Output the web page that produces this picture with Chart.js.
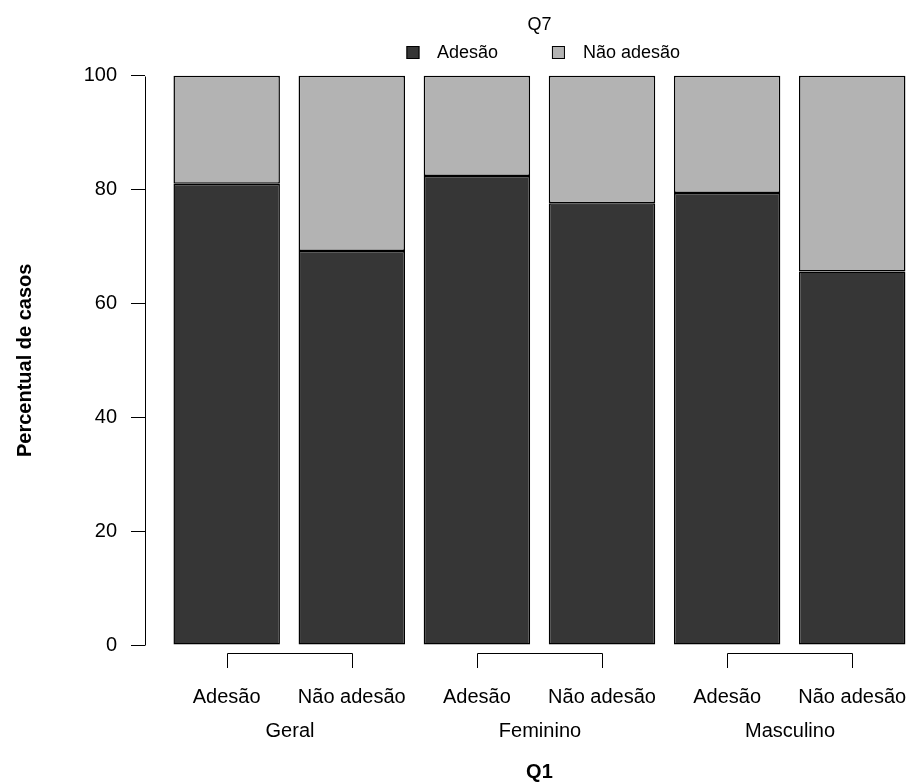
<!DOCTYPE html>
<html><head><meta charset="utf-8">
<script src="https://cdn.jsdelivr.net/npm/chart.js@4"></script>
<style>html,body{margin:0;padding:0;background:#fff;overflow:hidden}</style>
</head><body>
<canvas id="c" width="913" height="782"></canvas>
<script>
// ---- data ----
const groups = ['Geral', 'Feminino', 'Masculino'];
const barLabels = ['Adesão', 'Não adesão', 'Adesão', 'Não adesão', 'Adesão', 'Não adesão'];
const seriesNames = ['Adesão', 'Não adesão'];
const adesao = [81.0, 69.2, 82.4, 77.6, 79.4, 65.6];
const naoAdesao = [19.0, 30.8, 17.6, 22.4, 20.6, 34.4];
const yTicks = [0, 20, 40, 60, 80, 100];
const legendTitle = 'Q7';
const xTitle = 'Q1';
const yTitle = 'Percentual de casos';

const FONT = '"Liberation Sans", Arial, Helvetica, sans-serif';
const DARK = '#363636', LIGHT = '#b3b3b3', EDGE = '#000000';
const barIdx = barLabels.map((_, i) => i);

const overlay = {
  id: 'overlay',
  afterDraw(chart) {
    const ctx = chart.ctx, xs = chart.scales.x, ys = chart.scales.y;
    ctx.save();
    // y axis line from first to last tick
    const ax = Math.round(chart.chartArea.left) + 0.5;
    ctx.strokeStyle = '#000'; ctx.lineWidth = 1;
    ctx.beginPath();
    ctx.moveTo(ax, Math.round(ys.getPixelForValue(yTicks[0])) + 0.5);
    ctx.lineTo(ax, Math.round(ys.getPixelForValue(yTicks[yTicks.length - 1])) + 0.5);
    ctx.stroke();
    // brackets + labels
    const yLine = 653.5, yTick = 668;
    ctx.fillStyle = '#000';
    ctx.textAlign = 'center'; ctx.textBaseline = 'middle';
    ctx.font = '20px ' + FONT;
    groups.forEach((g, gi) => {
      const x1 = Math.round(xs.getPixelForValue(gi * 2)) + 0.5;
      const x2 = Math.round(xs.getPixelForValue(gi * 2 + 1)) + 0.5;
      ctx.beginPath();
      ctx.moveTo(x1, yTick); ctx.lineTo(x1, yLine); ctx.lineTo(x2, yLine); ctx.lineTo(x2, yTick);
      ctx.stroke();
      ctx.fillText(g, (x1 + x2) / 2, 731);
    });
    barLabels.forEach((l, i) => ctx.fillText(l, xs.getPixelForValue(i), 697));
    const cx = xs.getPixelForValue((barIdx.length - 1) / 2);
    ctx.font = 'bold 20px ' + FONT;
    ctx.fillText(xTitle, cx, 772);
    // legend
    ctx.font = '18px ' + FONT;
    ctx.fillText(legendTitle, cx, 25);
    const cols = [DARK, LIGHT];
    const boxOff = [-133, 12.5], txtOff = [-102.5, 43.5];
    ctx.textAlign = 'left';
    seriesNames.forEach((s, i) => {
      ctx.fillStyle = cols[i];
      ctx.fillRect(cx + boxOff[i], 46, 13, 13);
      ctx.strokeStyle = EDGE;
      ctx.strokeRect(cx + boxOff[i] + 0.5, 46.5, 12, 12);
      ctx.fillStyle = '#000';
      ctx.fillText(s, cx + txtOff[i], 53);
    });
    ctx.restore();
  }
};

new Chart(document.getElementById('c'), {
  type: 'bar',
  data: {
    datasets: [
      { label: seriesNames[0], data: adesao.map((v, i) => ({ x: barIdx[i], y: v })),
        backgroundColor: DARK, borderColor: EDGE, borderWidth: 1.5, borderSkipped: false },
      { label: seriesNames[1], data: naoAdesao.map((v, i) => ({ x: barIdx[i], y: v })),
        backgroundColor: LIGHT, borderColor: EDGE, borderWidth: 1.5, borderSkipped: false }
    ]
  },
  options: {
    responsive: false, animation: false,
    barPercentage: 0.851, categoryPercentage: 1,
    layout: { padding: { top: 52.9, left: 0, right: 0, bottom: 0 } },
    plugins: { legend: { display: false }, tooltip: { enabled: false } },
    scales: {
      x: {
        type: 'linear', stacked: true, min: -0.653, max: 5.486, offset: false,
        grid: { display: false, offset: false }, border: { display: false },
        ticks: { display: false },
        afterBuildTicks(a) { a.ticks = barIdx.map(v => ({ value: v })); },
        afterFit(a) { a.height = 114.2; }
      },
      y: {
        stacked: true, min: -4, max: 104,
        afterBuildTicks(a) { a.ticks = yTicks.map(v => ({ value: v })); },
        afterFit(a) { a.width = 145; },
        grid: { display: true, drawOnChartArea: false, drawTicks: true, tickLength: 14, color: '#000', lineWidth: 1 },
        border: { display: false },
        ticks: { color: '#000', padding: 14, font: { size: 20, family: FONT } },
        title: { display: true, text: yTitle, color: '#000', padding: { top: 13, bottom: 0 },
                 font: { size: 20, weight: 'bold', family: FONT, lineHeight: 1.2 } }
      }
    }
  },
  plugins: [overlay]
});
</script>
</body></html>
